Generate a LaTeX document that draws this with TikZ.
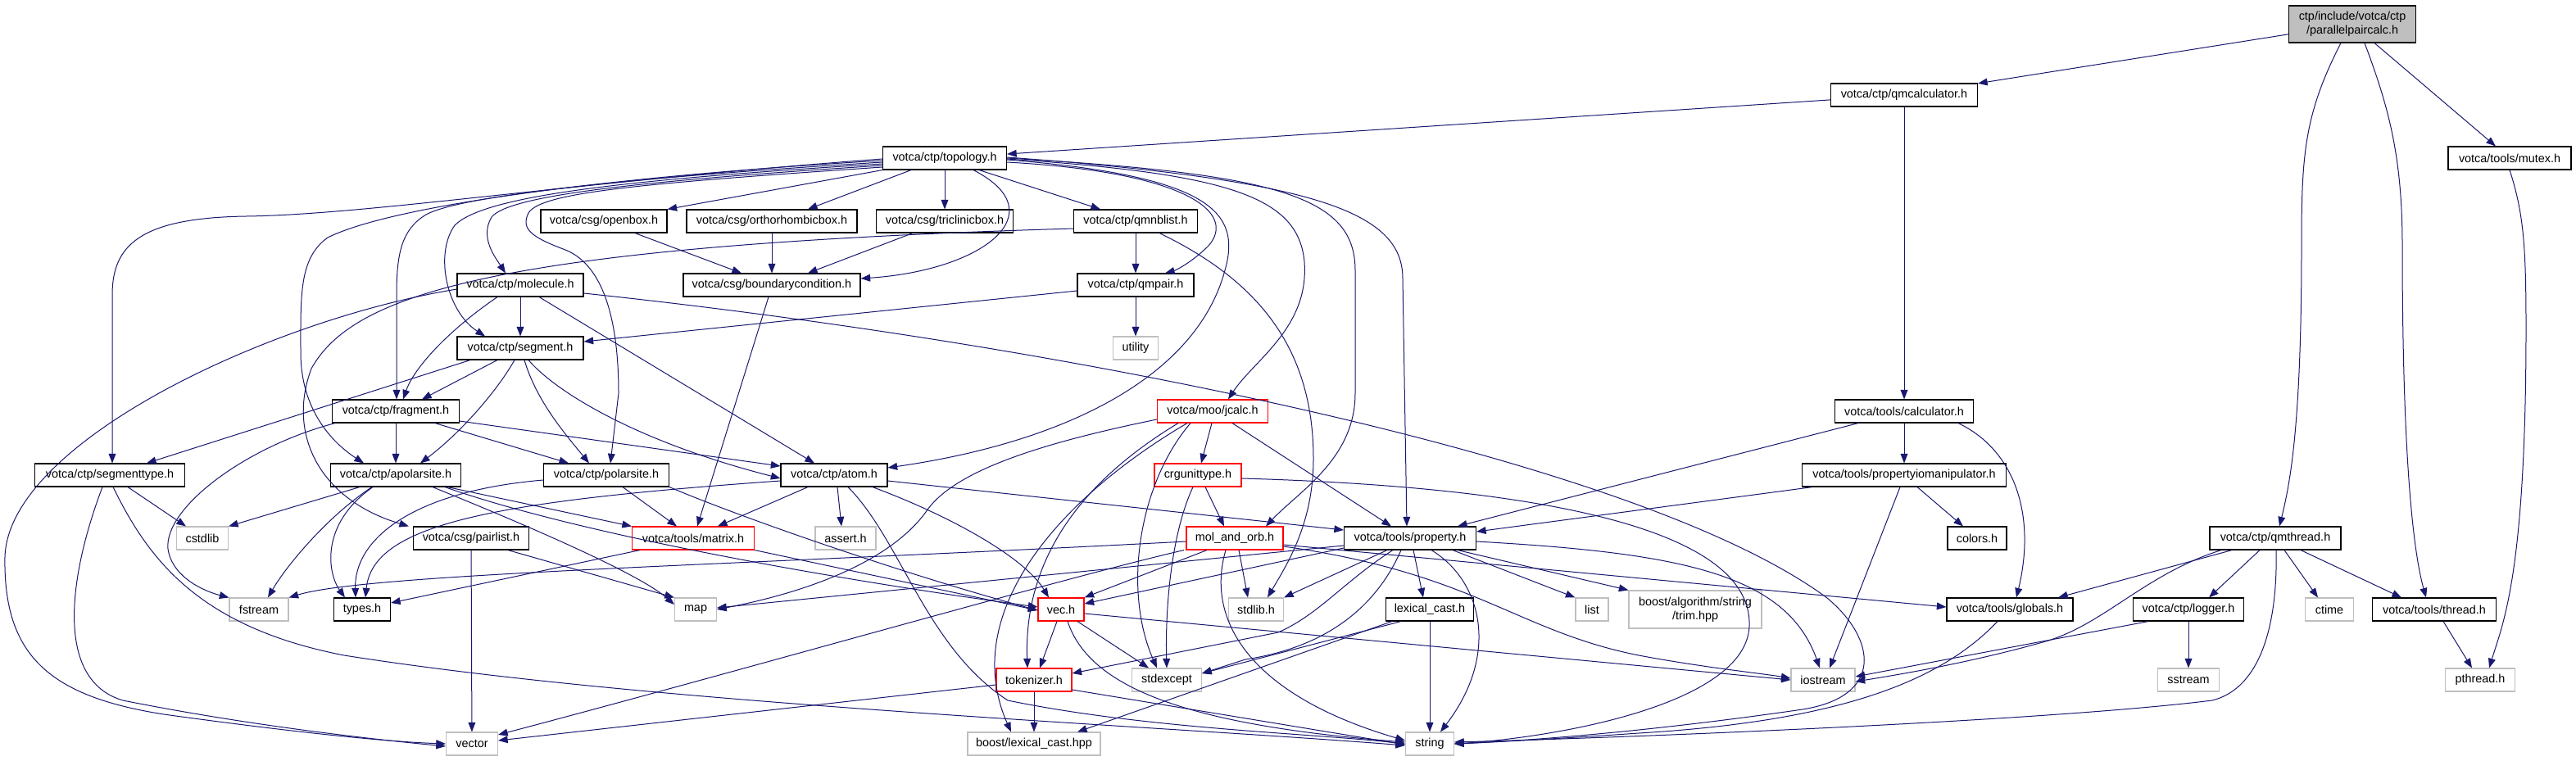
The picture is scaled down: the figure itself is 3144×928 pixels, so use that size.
\documentclass[tikz,border=0pt]{standalone}
\usepackage{fontspec}
\setmainfont{Liberation Sans}
\usetikzlibrary{arrows.meta}
\definecolor{edgec}{HTML}{191970}
\definecolor{sysgray}{HTML}{BFBFBF}
\newcommand{\fsz}{\fontsize{7.2pt}{8.5pt}\selectfont}
\begin{document}
\begin{tikzpicture}[x=0.5pt,y=-0.5pt,
 box/.style={draw=black,line width=0.55pt,rectangle,inner sep=0pt,minimum height=14pt,font=\fsz,fill=white},
 redbox/.style={box,draw=red},
 sysbox/.style={box,draw=sysgray},
 dep/.style={draw=edgec,line width=0.5pt,-{Triangle[length=5.8pt,width=4.4pt]}}]
\useasboundingbox (0,0) rectangle (3144,928);
\fill[white] (0,0) rectangle (3144,928);
% ---------- nodes ----------
\node[box,fill=sysgray,align=center,minimum height=22.5pt,minimum width=77.5pt] (P) at (2871,29.5) {ctp/include/votca/ctp\\/parallelpaircalc.h};
\node[box,minimum width=89.5pt] (qmcalc) at (2324,116) {votca/ctp/qmcalculator.h};
\node[box,minimum width=75pt] (mutex) at (3063,193) {votca/tools/mutex.h};
\node[box,minimum width=75.5pt] (topology) at (1153,193) {votca/ctp/topology.h};
\node[box,minimum width=77pt] (openbox) at (737,270) {votca/csg/openbox.h};
\node[box,minimum width=104pt] (ortho) at (942,270) {votca/csg/orthorhombicbox.h};
\node[box,minimum width=83.5pt] (triclinic) at (1153,270) {votca/csg/triclinicbox.h};
\node[box,minimum width=75.5pt] (qmnblist) at (1386,270) {votca/ctp/qmnblist.h};
\node[box,minimum width=108pt] (bc) at (942,348) {votca/csg/boundarycondition.h};
\node[box,minimum width=71pt] (qmpair) at (1386,348) {votca/ctp/qmpair.h};
\node[sysbox,minimum width=27.5pt] (utility) at (1386,425) {utility};
\node[box,minimum width=77pt] (molecule) at (635,348) {votca/ctp/molecule.h};
\node[box,minimum width=77pt] (segment) at (635,425) {votca/ctp/segment.h};
\node[box,minimum width=77.5pt] (fragment) at (483,502) {votca/ctp/fragment.h};
\node[box,minimum width=91.5pt] (segmenttype) at (134,580) {votca/ctp/segmenttype.h};
\node[box,minimum width=79.5pt] (apolarsite) at (483,580) {votca/ctp/apolarsite.h};
\node[box,minimum width=76.5pt] (polarsite) at (740,580) {votca/ctp/polarsite.h};
\node[box,minimum width=65pt] (atom) at (1018,580) {votca/ctp/atom.h};
\node[redbox,minimum width=67.5pt] (jcalc) at (1480,502) {votca/moo/jcalc.h};
\node[redbox,minimum width=53pt] (crgunittype) at (1462,580) {crgunittype.h};
\node[box,minimum width=84.5pt] (calculator) at (2324,502) {votca/tools/calculator.h};
\node[box,minimum width=124.5pt] (propio) at (2324,580) {votca/tools/propertyiomanipulator.h};
\node[sysbox,minimum width=31.5pt] (cstdlib) at (247,657) {cstdlib};
\node[box,minimum width=70.5pt] (pairlist) at (575,657) {votca/csg/pairlist.h};
\node[redbox,minimum width=74.5pt] (matrix) at (846,657) {votca/tools/matrix.h};
\node[sysbox,minimum width=37pt] (assert) at (1032,657) {assert.h};
\node[redbox,minimum width=59pt] (molorb) at (1507,657) {mol\_and\_orb.h};
\node[box,minimum width=80.5pt] (property) at (1721,657) {votca/tools/property.h};
\node[box,minimum width=36pt] (colors) at (2413,657) {colors.h};
\node[box,minimum width=80pt] (qmthread) at (2777,657) {votca/ctp/qmthread.h};
\node[sysbox,minimum width=36pt] (fstream) at (316,744) {fstream};
\node[box,minimum width=34.5pt] (types) at (442,744) {types.h};
\node[sysbox,minimum width=25.5pt] (map) at (849,744) {map};
\node[redbox,minimum width=28pt] (vec) at (1295,744) {vec.h};
\node[sysbox,minimum width=33.5pt] (stdlib) at (1533,744) {stdlib.h};
\node[box,minimum width=53.5pt] (lexcasth) at (1745,744) {lexical\_cast.h};
\node[sysbox,minimum width=20pt] (list) at (1943,744) {list};
\node[sysbox,align=center,minimum height=23pt,minimum width=81pt] (trim) at (2069,744) {boost/algorithm/string\\/trim.hpp};
\node[box,minimum width=77pt] (globals) at (2453,744) {votca/tools/globals.h};
\node[box,minimum width=67.5pt] (logger) at (2671,744) {votca/ctp/logger.h};
\node[sysbox,minimum width=29.5pt] (ctime) at (2843,744) {ctime};
\node[box,minimum width=75.5pt] (thread) at (2971,744) {votca/tools/thread.h};
\node[redbox,minimum width=46pt] (tokenizer) at (1262,830) {tokenizer.h};
\node[sysbox,minimum width=42.5pt] (stdexcept) at (1424,830) {stdexcept};
\node[sysbox,minimum width=39pt] (iostream) at (2225,830) {iostream};
\node[sysbox,minimum width=37.5pt] (sstream) at (2671,830) {sstream};
\node[sysbox,minimum width=42.5pt] (pthread) at (3027,830) {pthread.h};
\node[sysbox,minimum width=31.5pt] (vector) at (576,908) {vector};
\node[sysbox,minimum width=81pt] (lexcasthpp) at (1262,908) {boost/lexical\_cast.hpp};
\node[sysbox,minimum width=29.5pt] (string) at (1745,908) {string};
% ---------- root ----------
\draw[dep] (P) -- (qmcalc);
\draw[dep] ([xshift=-7pt]P.south) .. controls (2812,140) and (2809,190) .. (2809,300) .. controls (2809,520) and (2795,590) .. ([xshift=2.5pt]qmthread.north);
\draw[dep] ([xshift=7.5pt]P.south) .. controls (2915,130) and (2932,190) .. (2932,300) .. controls (2932,600) and (2950,690) .. ([xshift=-5pt]thread.north);
\draw[dep] (P) -- (mutex);
\draw[dep] (qmcalc) -- (topology);
\draw[dep] (qmcalc) -- (calculator);
\draw[dep] (mutex.south) .. controls (3080,260) and (3083,300) .. (3083,400) .. controls (3083,700) and (3055,760) .. ([xshift=5.5pt]pthread.north);
% ---------- topology ----------
\draw[dep] (topology.south west) -- (openbox.north east);
\draw[dep] ([xshift=-20.5pt]topology.south) -- ([xshift=22pt]ortho.north);
\draw[dep] (topology) -- (triclinic);
\draw[dep] ([xshift=21pt]topology.south) -- ([xshift=-21.5pt]qmnblist.north);
\draw[dep] ([xshift=17.5pt]topology.south) .. controls (1290,260) and (1200,330) .. ([yshift=4pt]bc.east);
\draw[dep] ([yshift=-2.5pt]topology.east) .. controls (1450,210) and (1510,260) .. (1475,300) .. controls (1455,320) and (1435,330) .. ([xshift=18pt]qmpair.north);
\draw[dep] ([yshift=-1pt]topology.east) .. controls (1480,215) and (1515,260) .. (1495,330) .. controls (1460,460) and (1300,540) .. ([yshift=4.5pt]atom.east);
\draw[dep] ([yshift=-0.5pt]topology.east) .. controls (1500,212) and (1585,240) .. (1592,320) .. controls (1598,400) and (1530,440) .. ([xshift=9.5pt]jcalc.north);
\draw[dep] (topology.east) .. controls (1560,212) and (1654,240) .. (1654,330) -- (1654,480) .. controls (1654,560) and (1585,600) .. ([xshift=19pt]molorb.north);
\draw[dep] ([yshift=0.5pt]topology.east) .. controls (1610,220) and (1712,260) .. (1712,340) -- ([xshift=-2pt]property.north);
\draw[dep] ([yshift=-0.5pt]topology.west) .. controls (700,222) and (450,262) .. (300,264) .. controls (170,266) and (137,300) .. (137,360) -- ([xshift=1.5pt]segmenttype.north);
\draw[dep] ([yshift=-1.5pt]topology.west) .. controls (750,215) and (480,250) .. (400,290) .. controls (365,315) and (367,360) .. (367,430) .. controls (367,500) and (405,540) .. ([xshift=-19.5pt]apolarsite.north);
\draw[dep] ([yshift=-2.5pt]topology.west) .. controls (750,218) and (560,240) .. (520,262) .. controls (490,280) and (484,310) .. (484,360) -- ([xshift=0.5pt]fragment.north);
\draw[dep] ([yshift=-3.5pt]topology.west) .. controls (750,220) and (590,240) .. (555,275) .. controls (530,310) and (545,380) .. ([xshift=-21.5pt]segment.north);
\draw[dep] ([yshift=-4.5pt]topology.west) .. controls (760,222) and (620,240) .. (600,265) .. controls (585,290) and (605,315) .. ([xshift=-9pt]molecule.north);
\draw[dep] ([yshift=-5.5pt]topology.west) .. controls (780,224) and (660,235) .. (645,260) .. controls (635,280) and (650,290) .. (690,305) .. controls (740,325) and (755,400) .. (755,480) -- ([xshift=2.5pt]polarsite.north);
% ---------- boxes / neighbour list ----------
\draw[dep] ([xshift=19pt]openbox.south) -- ([xshift=-18.5pt]bc.north);
\draw[dep] (ortho) -- (bc);
\draw[dep] ([xshift=-19.5pt]triclinic.south) -- ([xshift=22pt]bc.north);
\draw[dep] (qmnblist) -- (qmpair);
\draw[dep] ([yshift=-4.5pt]qmnblist.west) .. controls (600,300) and (430,360) .. (380,450) .. controls (350,530) and (390,610) .. ([xshift=-38pt]pairlist.north);
\draw[dep] ([xshift=14.5pt]qmnblist.south) .. controls (1530,340) and (1603,420) .. (1603,560) .. controls (1603,640) and (1570,690) .. ([xshift=7pt]stdlib.north);
\draw[dep] ([yshift=-3.5pt]qmpair.west) -- ([yshift=4pt]segment.east);
\draw[dep] (qmpair) -- (utility);
\draw[dep] ([xshift=-2pt]bc.south) -- ([xshift=2.5pt]matrix.north);
% ---------- molecule ----------
\draw[dep] (molecule) -- (segment);
\draw[dep] ([xshift=-14pt]molecule.south) .. controls (545,405) and (505,450) .. ([xshift=4.5pt]fragment.north);
\draw[dep] ([xshift=11.5pt]molecule.south) -- ([xshift=-12pt]atom.north);
\draw[dep] ([yshift=-2.5pt]molecule.west) .. controls (330,390) and (10,540) .. (6,680) .. controls (4,800) and (60,850) .. (200,872) .. controls (330,890) and (460,905) .. (vector.west);
\draw[dep] ([yshift=-5pt]molecule.east) .. controls (1300,420) and (2000,560) .. (2230,730) .. controls (2290,780) and (2300,850) .. (2200,866) .. controls (2000,895) and (1850,905) .. (string.east);
% ---------- segment ----------
\draw[dep] ([xshift=-30.5pt]segment.south) -- ([xshift=22.5pt]segmenttype.north);
\draw[dep] ([xshift=-14pt]segment.south) -- ([xshift=16pt]fragment.north);
\draw[dep] ([xshift=-3.5pt]segment.south) .. controls (605,480) and (560,530) .. ([xshift=15pt]apolarsite.north);
\draw[dep] ([xshift=2.5pt]segment.south) .. controls (655,490) and (690,530) .. ([xshift=-10.5pt]polarsite.north);
\draw[dep] ([xshift=5pt]segment.south) .. controls (680,480) and (780,540) .. ([yshift=-2pt]atom.west);
% ---------- fragment ----------
\draw[dep] (fragment) -- (apolarsite);
\draw[dep] ([xshift=24pt]fragment.south) -- ([xshift=-23pt]polarsite.north);
\draw[dep] ([yshift=-6pt]fragment.east) -- ([yshift=5.5pt]atom.west);
\draw[dep] ([xshift=-37pt]fragment.south) .. controls (300,545) and (200,620) .. (205,670) .. controls (210,705) and (250,722) .. (fstream.north west);
% ---------- segmenttype ----------
\draw[dep] ([xshift=11pt]segmenttype.south) -- ([xshift=-10pt]cstdlib.north);
\draw[dep] ([xshift=-4.5pt]segmenttype.south) .. controls (85,700) and (65,830) .. (150,855) .. controls (300,885) and (450,902) .. ([yshift=-1.5pt]vector.west);
\draw[dep] ([xshift=2pt]segmenttype.south) .. controls (180,680) and (240,765) .. (420,800) .. controls (800,860) and (1400,885) .. ([yshift=-1pt]string.west);
% ---------- apolarsite ----------
\draw[dep] ([xshift=-22pt]apolarsite.south) -- (cstdlib.north east);
\draw[dep] ([xshift=-14.5pt]apolarsite.south) .. controls (400,630) and (350,690) .. ([xshift=5.5pt]fstream.north);
\draw[dep] ([xshift=-14pt]apolarsite.south) .. controls (390,640) and (400,700) .. ([xshift=-10.5pt]types.north);
\draw[dep] ([xshift=22.5pt]apolarsite.south) .. controls (640,640) and (780,700) .. ([yshift=3pt]map.west);
\draw[dep] ([xshift=31.5pt]apolarsite.south) -- (matrix.north west);
\draw[dep] ([xshift=30pt]apolarsite.south) .. controls (700,650) and (1000,705) .. ([yshift=1.5pt]vec.west);
% ---------- polarsite ----------
\draw[dep] ([yshift=-3pt]polarsite.west) .. controls (500,600) and (432,660) .. ([xshift=-4pt]types.north);
\draw[dep] ([xshift=10pt]polarsite.south) -- ([xshift=-10pt]matrix.north);
\draw[dep] (polarsite.south east) .. controls (900,630) and (1100,700) .. ([yshift=-0.5pt]vec.west);
% ---------- atom ----------
\draw[dep] ([yshift=-3.5pt]atom.west) .. controls (600,612) and (455,640) .. ([xshift=2pt]types.north);
\draw[dep] ([xshift=-16pt]atom.south) -- ([xshift=15pt]matrix.north);
\draw[dep] ([xshift=2pt]atom.south) -- ([xshift=-2.5pt]assert.north);
\draw[dep] ([xshift=23.5pt]atom.south) .. controls (1160,630) and (1250,680) .. ([xshift=-7.5pt]vec.north);
\draw[dep] ([xshift=8.5pt]atom.south) .. controls (1100,660) and (1130,790) .. (1230,855) .. controls (1400,890) and (1600,895) .. (string.west);
\draw[dep] ([yshift=-3.5pt]atom.east) -- ([yshift=5pt]property.west);
% ---------- pairlist / matrix ----------
\draw[dep] (pairlist) -- (vector);
\draw[dep] ([xshift=22.5pt]pairlist.south) -- (map.north west);
\draw[dep] ([xshift=-32.5pt]matrix.south) -- ([yshift=4pt]types.east);
\draw[dep] (matrix.south east) -- ([yshift=-0.5pt]vec.west);
% ---------- jcalc ----------
\draw[dep] ([xshift=-0.5pt]jcalc.south) -- ([xshift=2pt]crgunittype.north);
\draw[dep] ([yshift=-5pt]jcalc.west) .. controls (1250,545) and (1160,580) .. (1130,625) .. controls (1090,680) and (1000,720) .. (map.east);
\draw[dep] ([xshift=-21pt]jcalc.south) .. controls (1300,600) and (1250,700) .. ([xshift=-4pt]tokenizer.north);
\draw[dep] ([xshift=-13.5pt]jcalc.south) .. controls (1390,590) and (1370,720) .. ([xshift=-6pt]stdexcept.north);
\draw[dep] ([xshift=-15.5pt]jcalc.south) .. controls (1290,610) and (1170,750) .. ([xshift=-14pt]lexcasthpp.north);
\draw[dep] ([xshift=12pt]jcalc.south) -- ([xshift=-11.5pt]property.north);
% ---------- crgunittype ----------
\draw[dep] ([xshift=4.5pt]crgunittype.south) -- ([xshift=-6.5pt]molorb.north);
\draw[dep] ([xshift=-3pt]crgunittype.south) .. controls (1430,650) and (1422,740) .. (stdexcept.north);
\draw[dep] ([yshift=-2pt]crgunittype.east) .. controls (1900,595) and (2140,650) .. (2135,765) .. controls (2130,860) and (1900,900) .. (string.east);
% ---------- mol_and_orb ----------
\draw[dep] ([xshift=-17pt]molorb.south) -- (vec.north east);
\draw[dep] ([xshift=2.5pt]molorb.south) -- ([xshift=-5pt]stdlib.north);
\draw[dep] ([yshift=-2pt]molorb.west) .. controls (900,690) and (450,700) .. (fstream.north east);
\draw[dep] ([xshift=-31pt]molorb.south) .. controls (1300,705) and (900,820) .. ([yshift=5.5pt]vector.east);
\draw[dep] ([xshift=-5.5pt]molorb.south) .. controls (1470,760) and (1530,850) .. ([yshift=2pt]string.west);
\draw[dep] ([yshift=-4pt]molorb.east) -- ([yshift=1.5pt]globals.west);
\draw[dep] ([yshift=-5pt]molorb.east) .. controls (1800,700) and (1850,770) .. (2000,800) .. controls (2080,815) and (2150,822) .. ([yshift=1pt]iostream.west);
% ---------- property ----------
\draw[dep] ([xshift=-14pt]property.south) -- (stdlib.north east);
\draw[dep] ([xshift=-10.5pt]property.south) .. controls (1640,710) and (1610,750) .. (1560,772) -- ([yshift=4pt]tokenizer.east);
\draw[dep] ([xshift=-5.5pt]property.south) .. controls (1680,740) and (1620,790) .. (1520,805) -- ([yshift=4pt]stdexcept.east);
\draw[dep] ([xshift=2pt]property.south) -- ([xshift=-4pt]lexcasth.north);
\draw[dep] ([xshift=13pt]property.south) .. controls (1810,710) and (1830,800) .. ([xshift=6.5pt]string.north);
\draw[dep] ([xshift=26pt]property.south) -- (list.north west);
\draw[dep] ([xshift=29pt]property.south) -- (trim.north west);
\draw[dep] ([yshift=-2pt]property.east) .. controls (2050,675) and (2180,700) .. ([xshift=-2pt]iostream.north);
\draw[dep] ([yshift=-4.5pt]property.west) -- ([yshift=1pt]map.east);
\draw[dep] ([yshift=-6pt]property.west) -- ([yshift=3.5pt]vec.east);
% ---------- lexical_cast.h ----------
\draw[dep] (lexcasth) -- (string);
\draw[dep] ([xshift=-17.5pt]lexcasth.south) -- ([yshift=4pt]stdexcept.east);
\draw[dep] ([xshift=-23pt]lexcasth.south) -- ([xshift=26.5pt]lexcasthpp.north);
% ---------- vec / tokenizer ----------
\draw[dep] ([xshift=-2.5pt]vec.south) -- ([xshift=3.5pt]tokenizer.north);
\draw[dep] ([xshift=10pt]vec.south) -- ([xshift=-11pt]stdexcept.north);
\draw[dep] ([xshift=4pt]vec.south) .. controls (1330,840) and (1450,885) .. ([yshift=1pt]string.west);
\draw[dep] ([yshift=-2.5pt]vec.east) -- (iostream.west);
\draw[dep] (tokenizer) -- (lexcasthpp);
\draw[dep] ([yshift=-3pt]tokenizer.west) -- ([yshift=2pt]vector.east);
\draw[dep] ([yshift=-6pt]tokenizer.east) -- ([yshift=-0.5pt]string.west);
% ---------- calculator / propertyiomanipulator ----------
\draw[dep] ([xshift=-28pt]calculator.south) -- ([xshift=29pt]property.north);
\draw[dep] (calculator) -- (propio);
\draw[dep] ([xshift=33pt]calculator.south) .. controls (2460,550) and (2485,630) .. ([xshift=4pt]globals.north);
\draw[dep] ([xshift=-56pt]propio.south) -- ([yshift=4pt]property.east);
\draw[dep] ([xshift=8pt]propio.south) -- ([xshift=-8.5pt]colors.north);
\draw[dep] ([xshift=-2.5pt]propio.south) -- ([xshift=4pt]iostream.north);
% ---------- globals / qmthread / logger / thread ----------
\draw[dep] ([xshift=-7.5pt]globals.south) .. controls (2370,830) and (2250,880) .. (2000,895) .. controls (1900,902) and (1820,906) .. (string.east);
\draw[dep] ([xshift=-26.5pt]qmthread.south) -- ([xshift=29.5pt]globals.north);
\draw[dep] ([xshift=-33pt]qmthread.south) .. controls (2620,700) and (2570,760) .. (2500,782) .. controls (2420,805) and (2340,820) .. ([yshift=-1pt]iostream.east);
\draw[dep] ([xshift=-9.5pt]qmthread.south) -- ([xshift=12.5pt]logger.north);
\draw[dep] ([xshift=5.5pt]qmthread.south) -- ([xshift=-7pt]ctime.north);
\draw[dep] ([xshift=15.5pt]qmthread.south) -- ([xshift=-20pt]thread.north);
\draw[dep] ([xshift=0.5pt]qmthread.south) .. controls (2780,760) and (2760,840) .. (2700,855) .. controls (2500,880) and (2000,900) .. ([yshift=1pt]string.east);
\draw[dep] (logger) -- (sstream);
\draw[dep] ([xshift=-24.5pt]logger.south) -- ([yshift=2pt]iostream.east);
\draw[dep] ([xshift=5.5pt]thread.south) -- ([xshift=-5pt]pthread.north);
\end{tikzpicture}
\end{document}
